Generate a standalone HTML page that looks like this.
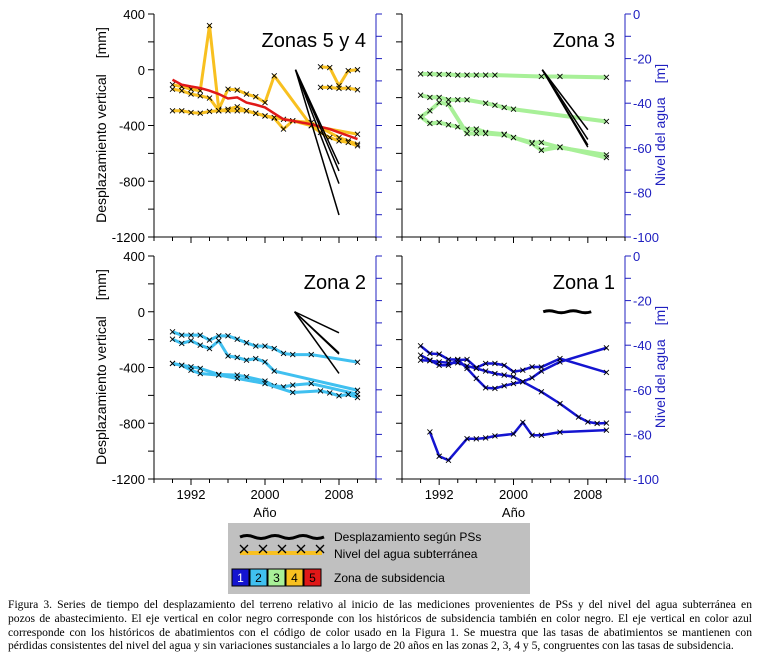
<!DOCTYPE html>
<html><head><meta charset="utf-8"><style>
body{margin:0;background:#fff;width:757px;height:664px;overflow:hidden;position:relative}
svg{position:absolute;left:0;top:0}
#cap{position:absolute;left:8px;top:598px;width:744px;font-family:"Liberation Serif",serif;font-size:11.6px;line-height:13.8px;color:#000}
#cap div{text-align:justify;text-align-last:justify;white-space:nowrap;overflow:hidden}
#cap div.last{text-align-last:left}
</style></head><body>
<svg id="chart" width="757" height="600" font-family="Liberation Sans, sans-serif"></svg>
<div id="cap">
<div>Figura 3. Series de tiempo del desplazamiento del terreno relativo al inicio de las mediciones provenientes de PSs y del nivel del agua subterránea en</div>
<div>pozos de abastecimiento. El eje vertical en color negro corresponde con los históricos de subsidencia también en color negro. El eje vertical en color azul</div>
<div>corresponde con los históricos de abatimientos con el código de color usado en la Figura 1. Se muestra que las tasas de abatimientos se mantienen con</div>
<div class="last">pérdidas consistentes del nivel del agua y sin variaciones sustanciales a lo largo de 20 años en las zonas 2, 3, 4 y 5, congruentes con las tasas de subsidencia.</div>
</div>
<script>
// ---- data ----
const yrTicks=[1988,1990,1992,1994,1996,1998,2000,2002,2004,2006,2008,2010,2012];
const yrLabels=[1992,2000,2008];
const mmTicks=[400,200,0,-200,-400,-600,-800,-1000,-1200];
const mmLabels=[400,0,-400,-800,-1200];
const mTicks=[0,-10,-20,-30,-40,-50,-60,-70,-80,-90,-100];
const mLabels=[0,-20,-40,-60,-80,-100];

const z54Years=[[1990,1991,1992,1993,1994,1995,1996,1997,1998,1999,2000,2001,2005,2010],
 [1990,1991,1992,1993,1994,1995,1996,1997,1998,1999,2000,2001,2002,2003,2005,2008,2009,2010],
 [1990,1991,1992,1993,1994,1995,1996,1997,1998,1999,2000,2001,2002,2003,2005,2006,2007,2008,2009,2010],
 [2006,2007,2008,2009,2010],[2006,2007,2008,2009,2010]];
const z54Vals=[[-31.7,-32.6,-33.7,-34.4,-5.2,-42.7,-33.7,-34.1,-35.9,-37.1,-39.7,-27.7,-50.1,-53.9],
 [-33.7,-34.4,-35.9,-36.7,-37.7,-43.4,-42.7,-41.6,-43.4,-44.6,-45.7,-46.7,-51.6,-47.9,-48.7,-55.4,-56.9,-58.4],
 [-43.4,-43.4,-44.2,-44.5,-43.7,-43.4,-43.4,-43.4,-43.4,-44.5,-45.7,-46.4,-47.2,-47.9,-50.1,-53.1,-55.4,-56.9,-57.6,-59.1],
 [-23.7,-24.0,-32.2,-25.4,-25.0],[-32.9,-32.9,-33.4,-33.2,-34.0]];
const z5Years=[1990,1991,1992,1993,1994,1995,1996,1997,1998,1999,2000,2001,2002,2003,2004,2005,2006,2007,2008,2009,2010];
const z5Vals=[-29.5,-31.7,-32.5,-33.2,-34.4,-35.9,-37.9,-37.4,-39.7,-40.7,-41.9,-44.6,-47.2,-47.9,-48.7,-49.4,-50.6,-51.6,-53.1,-54.6,-56.1];
const z54PsEnd=[-678,-726,-817,-1042];

const z3Years=[[1990,1991,1992,1993,1994,1995,1996,1997,1998,2003,2005,2010],
 [1990,1991,1992,1993,1994,1995,1997,1998,1999,2000,2010],
 [1990,1991,1992,1993,1994,1995,1996,1997,1999,2000,2002,2003,2005,2010],
 [1990,1991,1992,1993,1995,1996,1997,1999,2000,2002,2003,2005,2010]];
const z3Vals=[[-26.9,-26.9,-27.1,-27.1,-27.4,-27.4,-27.4,-27.4,-27.4,-28.0,-28.0,-28.4],
 [-36.4,-37.4,-37.4,-38.5,-38.5,-38.5,-40.0,-40.9,-41.9,-42.7,-48.2],
 [-46.1,-49.1,-48.7,-49.7,-50.6,-51.6,-51.6,-53.1,-53.9,-55.4,-57.6,-57.6,-59.9,-63.2],
 [-46.1,-43.4,-39.7,-40.4,-53.6,-53.6,-53.6,-54.2,-55.4,-58.1,-61.1,-59.6,-64.4]];
const z3PsEnd=[-430,-500,-540,-555];

const z2Years=[[1990,1991,1992,1993,1994,1995,1996,1997,1998,1999,2000,2001,2002,2003,2005,2010],
 [1990,1991,1992,1993,1994,1995,1996,1997,1998,1999,2000,2001,2010],
 [1990,1991,1992,1993,1995,1997,1998,2000,2001,2002,2003,2005,2010],
 [1990,1991,1992,1993,1995,1997,2000,2003,2006,2007,2008,2009,2010]];
const z2Vals=[[-34.0,-35.5,-35.5,-35.5,-37.7,-35.8,-35.8,-37.3,-38.9,-40.4,-40.4,-41.5,-43.7,-44.2,-44.2,-47.6],
 [-37.3,-39.2,-38.0,-40.0,-41.5,-38.0,-44.8,-45.5,-46.7,-46.0,-47.5,-51.6,-60.2],
 [-48.2,-49.0,-49.7,-50.4,-53.1,-53.4,-54.2,-56.1,-58.2,-58.7,-57.9,-57.2,-62.0],
 [-48.2,-49.0,-51.2,-52.7,-53.4,-54.9,-57.2,-61.2,-60.5,-61.4,-62.7,-62.1,-63.5]];
const z2PsEnd=[-151,-295,-304,-443];

const z1Years=[[1990,1991,1992,1993,1994,1995,1996,1997,1998,1999,2000,2001,2002,2003,2005,2010],
 [1990,1991,1992,1993,1994,1995,1996,1997,1998,1999,2000,2001,2002,2003,2005,2010],
 [1990,1991,1992,1993,1994,1995,1996,1997,1998,1999,2000,2001,2003,2005,2007,2008,2009,2010],
 [1991,1992,1993,1995,1996,1997,1998,2000,2001,2002,2003,2005,2010]];
const z1Vals=[[-40.3,-43.7,-44.0,-46.4,-46.4,-50.4,-54.9,-59.1,-59.4,-58.2,-57.2,-56.4,-54.6,-51.6,-47.5,-41.2],
 [-44.5,-46.7,-49.0,-49.0,-46.7,-46.4,-50.1,-48.2,-48.2,-49.0,-51.9,-51.2,-49.7,-49.8,-46.0,-52.2],
 [-46.7,-47.0,-47.5,-47.9,-47.9,-49.3,-50.4,-51.6,-52.7,-53.4,-54.2,-56.4,-60.9,-66.2,-72.2,-74.4,-75.1,-74.9],
 [-78.9,-89.8,-91.6,-81.9,-82.0,-81.6,-80.7,-79.8,-74.6,-80.4,-80.4,-79.0,-78.1]];
const z1PsEnd=[0];

const svg=document.getElementById('chart');
const NS='http://www.w3.org/2000/svg';
function mk(tag,attrs,parent,txt){const e=document.createElementNS(NS,tag);for(const k in attrs)e.setAttribute(k,attrs[k]);if(txt!==undefined)e.textContent=txt;(parent||svg).appendChild(e);return e;}

function panel(P){
 const g=mk('g',{});
 
 
 const X=y=>P.x0+(y-1988)/24*(P.x1-P.x0);
 const YL=v=>P.y0+(400-v)/1600*(P.y1-P.y0);
 const YR=v=>P.y0+(-v)/100*(P.y1-P.y0);
 mk('line',{x1:P.x0,y1:P.y0,x2:P.x0,y2:P.y1,stroke:'#000','stroke-width':1},g);
 mk('line',{x1:P.x0,y1:P.y1,x2:P.x1,y2:P.y1,stroke:'#000','stroke-width':1},g);
 mk('line',{x1:P.x1,y1:P.y0,x2:P.x1,y2:P.y1,stroke:'#2020c0','stroke-width':1},g);
 mmTicks.forEach(v=>{mk('line',{x1:P.x0-6,x2:P.x0,y1:YL(v),y2:YL(v),stroke:'#000'},g);});
 if(P.leftLabels)mmLabels.forEach(v=>{const t=mk('text',{x:P.x0-9,y:YL(v)+5,'text-anchor':'end','font-size':13},g,String(v));});
 mTicks.forEach(v=>{mk('line',{x1:P.x1,x2:P.x1+6,y1:YR(v),y2:YR(v),stroke:'#2020c0'},g);});
 if(P.rightLabels)mLabels.forEach(v=>{const t=mk('text',{x:P.x1+8,y:YR(v)+5,'font-size':13,fill:'#2020c0'},g,String(v));});
 yrTicks.forEach(y=>{const L=yrLabels.includes(y)?6:4;mk('line',{x1:X(y),x2:X(y),y1:P.y1,y2:P.y1+L,stroke:'#000'},g);});
 if(P.bottomLabels){yrLabels.forEach(y=>{const t=mk('text',{x:X(y),y:P.y1+20,'text-anchor':'middle','font-size':13},g,String(y));});
  const a=mk('text',{x:(P.x0+P.x1)/2,y:P.y1+38,'text-anchor':'middle','font-size':13},g,'Año');}
 const tt=mk('text',{x:P.x1-10,y:P.y0+33,'text-anchor':'end','font-size':20},g,P.title);
 
 P.years.forEach((ys,i)=>{
  const pts=ys.map((y,j)=>X(y)+','+YR(P.vals[i][j])).join(' ');
  const l=mk('polyline',{points:pts,fill:'none',stroke:P.color,'stroke-width':P.lw,'stroke-linejoin':'round'},g);
  
  ys.forEach((y,j)=>{const cx=X(y),cy=YR(P.vals[i][j]);mk('path',{d:`M${cx-2.5},${cy-2.5}L${cx+2.5},${cy+2.5}M${cx-2.5},${cy+2.5}L${cx+2.5},${cy-2.5}`,stroke:'#000','stroke-width':0.9},g);});
 });
 if(P.red){const pts=P.red[0].map((y,j)=>X(y)+','+YR(P.red[1][j])).join(' ');const l=mk('polyline',{points:pts,fill:'none',stroke:'#e01818','stroke-width':2.5},g);}
 P.ps.forEach(v=>{
  if(P.flat){const l=mk('path',{d:`M${X(2003.2)},${YL(0)} q6,-2 12,0 t12,0 t12,0 t12,0`,stroke:'#000','stroke-width':3,fill:'none'},g);return;}
  const l=mk('line',{x1:X(P.psStart),y1:YL(0),x2:X(2008),y2:YL(v),stroke:'#000','stroke-width':1.5},g);
  
 });
}
panel({name:'panel-zonas-5-4',x0:154,x1:376,y0:14,y1:237,title:'Zonas 5 y 4',leftLabels:true,years:z54Years,vals:z54Vals,color:'#f8c020',lw:3,red:[z5Years,z5Vals],ps:z54PsEnd,psStart:2003.3});
panel({name:'panel-zona-3',x0:402,x1:625,y0:14,y1:237,title:'Zona 3',rightLabels:true,years:z3Years,vals:z3Vals,color:'#a8f098',lw:4,ps:z3PsEnd,psStart:2003.1});
panel({name:'panel-zona-2',x0:154,x1:376,y0:256,y1:479,title:'Zona 2',leftLabels:true,bottomLabels:true,years:z2Years,vals:z2Vals,color:'#40c0f0',lw:3,ps:z2PsEnd,psStart:2003.2});
panel({name:'panel-zona-1',x0:402,x1:625,y0:256,y1:479,title:'Zona 1',rightLabels:true,bottomLabels:true,years:z1Years,vals:z1Vals,color:'#1414d0',lw:2.5,ps:z1PsEnd,flat:true});

function rot(x,y,a,b,fill,name,gap){const t=mk('text',{x:x,y:y,transform:`rotate(-90 ${x} ${y})`,'text-anchor':'middle','font-size':14,fill:fill});
 mk('tspan',{},t,a);mk('tspan',{dx:gap},t,b);
 }
rot(106,125,'Desplazamiento vertical','[mm]','#000','y-axis-title-top',16);
rot(106,367,'Desplazamiento vertical','[mm]','#000','y-axis-title-bottom',16);
rot(665,125,'Nivel del agua','[m]','#2020c0','right-axis-title-top',14);
rot(665,367,'Nivel del agua','[m]','#2020c0','right-axis-title-bottom',14);

const lg=mk('g',{});

mk('rect',{x:228,y:523,width:302,height:71,fill:'#c0c0c0'},lg);
mk('path',{d:'M240,537 q7,-3 14,0 t14,0 t14,0 t14,0 t14,0 t14,0',stroke:'#000','stroke-width':3,fill:'none'},lg);
mk('text',{x:334,y:541,'font-size':12},lg,'Desplazamiento según PSs');
mk('line',{x1:240,y1:553,x2:322,y2:553,stroke:'#f8c020','stroke-width':4},lg);
[244,263,282,301,320].forEach(cx=>mk('path',{d:`M${cx-4},${549-4}L${cx+4},${549+4}M${cx-4},${549+4}L${cx+4},${549-4}`,stroke:'#000','stroke-width':1.3},lg));
mk('text',{x:334,y:558,'font-size':12},lg,'Nivel del agua subterránea');
const zc=['#1414d0','#40c0f0','#a8f098','#f8c020','#e01818'];
zc.forEach((c,i)=>{mk('rect',{x:232+i*18,y:569,width:17,height:17,fill:c,stroke:'#000','stroke-width':1},lg);mk('text',{x:240.5+i*18,y:582,'text-anchor':'middle','font-size':12,fill:i==0?'#fff':'#000'},lg,String(i+1));});
mk('text',{x:334,y:582,'font-size':12},lg,'Zona de subsidencia');
</script>
</body></html>
